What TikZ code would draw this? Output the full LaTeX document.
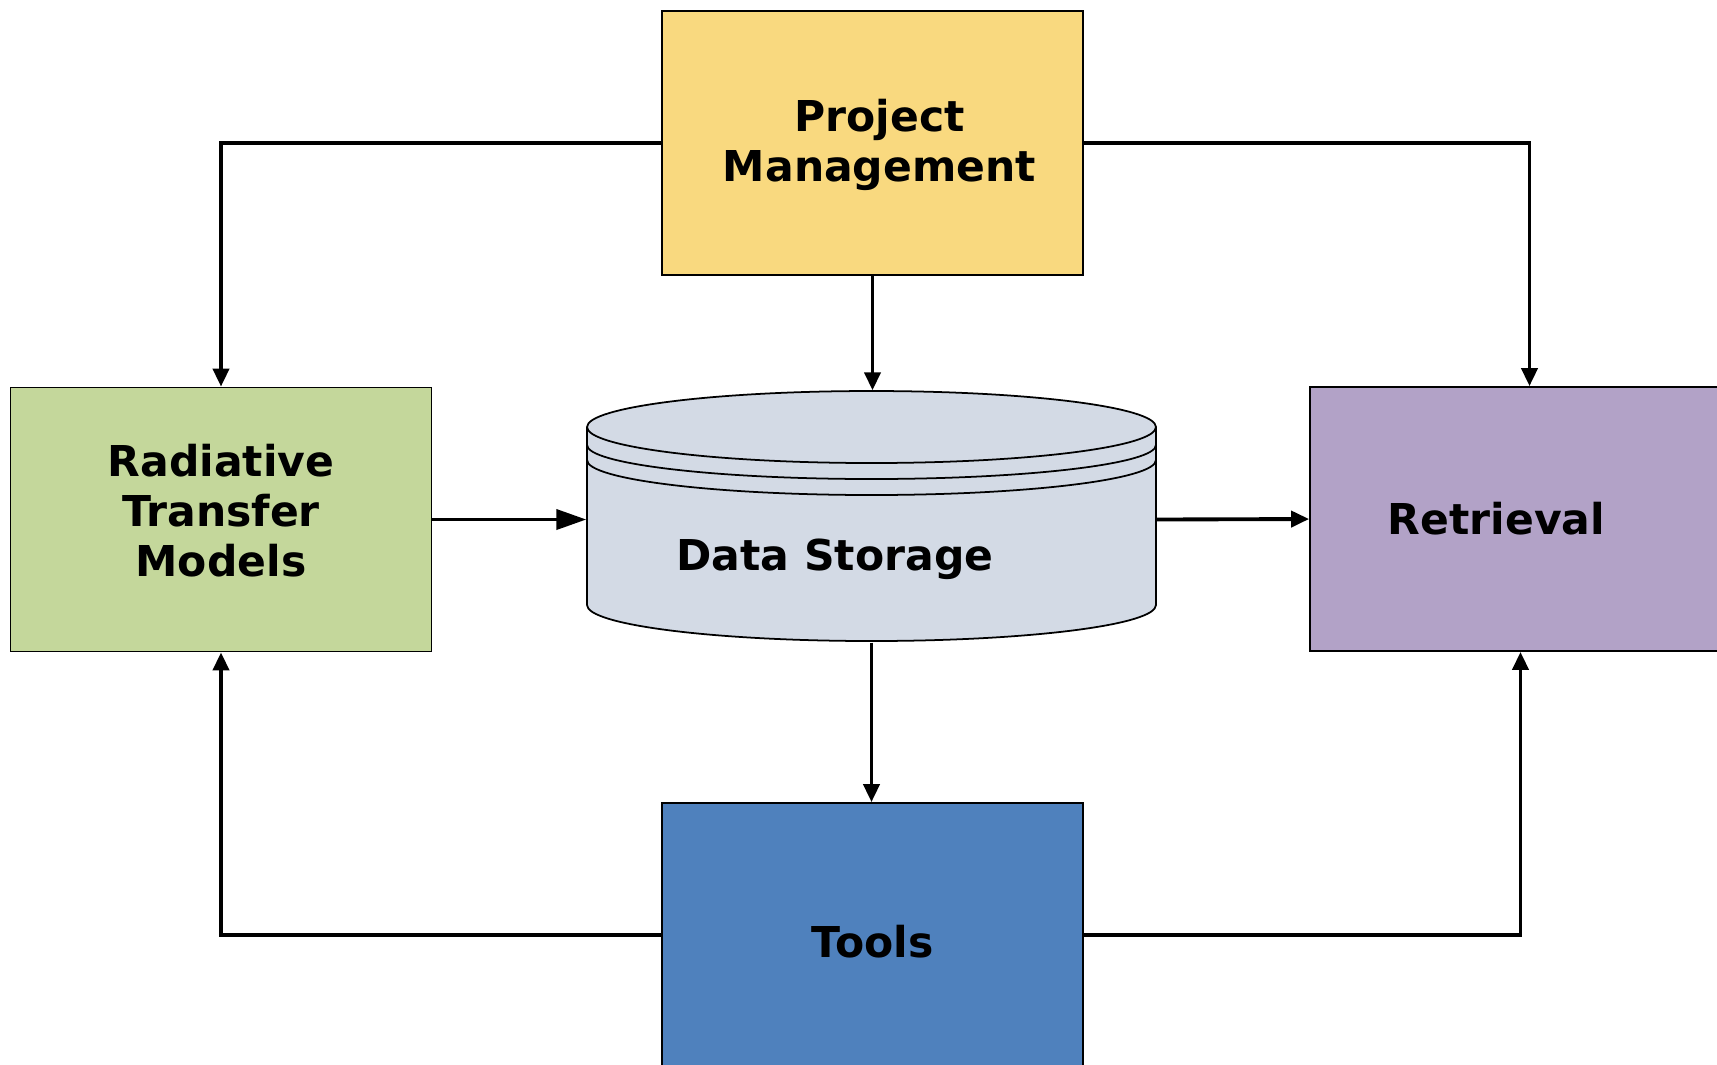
\documentclass[tikz,border=0pt]{standalone}
\usepackage{fontspec}
\setmainfont{DejaVu Sans}
\usetikzlibrary{arrows.meta}

\definecolor{pmfill}{HTML}{F9D97F}
\definecolor{rtmfill}{HTML}{C4D79B}
\definecolor{storefill}{HTML}{D3DAE5}
\definecolor{retfill}{HTML}{B2A2C7}
\definecolor{toolsfill}{HTML}{4F81BD}

\begin{document}
\begin{tikzpicture}[>={Triangle[length=1.8mm,width=1.6mm]},
  txt/.style={font=\fontsize{12.1}{14.2}\selectfont\bfseries, align=center, inner sep=0pt},
  box/.style={txt, draw=black, line width=0.5pt, minimum width=4.21cm, minimum height=2.64cm},
  link/.style={draw=black, line width=1.1pt, ->}]
\useasboundingbox (0,0) rectangle (17.17,-10.64);
\node [box, fill=pmfill, label={[txt, xshift=0.07cm, yshift=-0.02cm]center:Project\\Management}] (pm) at (8.725,-1.43) {};
\node [box, fill=rtmfill, label={[txt, yshift=0.09cm]center:Radiative\\Transfer\\Models}] (rtm) at (2.21,-5.195) {};
\node [box, fill=retfill, label={[txt, xshift=-0.24cm]center:Retrieval}] (ret) at (15.205,-5.19) {};
\node [box, fill=toolsfill, label={[txt, yshift=-0.07cm]center:Tools}] (tools) at (8.725,-9.35) {};
\node [minimum width=5.69cm, minimum height=2.51cm, inner sep=0pt] (store) at (8.715,-5.165) {};
\draw [black, fill=storefill, line width=0.5pt] (5.87,-4.27) -- (5.87,-6.05) arc (180:360:2.845 and 0.36)
  -- (11.56,-4.27) arc (0:180:2.845 and 0.36) -- cycle;
\draw [black, line width=0.5pt] (5.87,-4.27) arc (180:360:2.845 and 0.36);
\draw [black, line width=0.5pt] (5.87,-4.45) arc (180:360:2.845 and 0.34);
\draw [black, line width=0.5pt] (5.87,-4.6) arc (180:360:2.845 and 0.35);
\node [txt] (storelbl) at (8.35,-5.59) {Data Storage};
\draw [link] (pm.south) -- (pm.south |- store.north);
\draw [link] (pm.west) -| (rtm.north);
\draw [link] (pm.east) -| ([xshift=0.09cm]ret.north);
\draw [link, -{Triangle[length=3mm,width=2mm]}] (rtm.east) -- (rtm.east -| store.west);
\draw [link] (rtm.east -| store.east) -- (ret.west);
\draw [link] (store.south) -- (store.south |- tools.north);
\draw [link] (tools.west) -| (rtm.south);
\draw [link] (tools.east) -| (ret.south);
\end{tikzpicture}
\end{document}
